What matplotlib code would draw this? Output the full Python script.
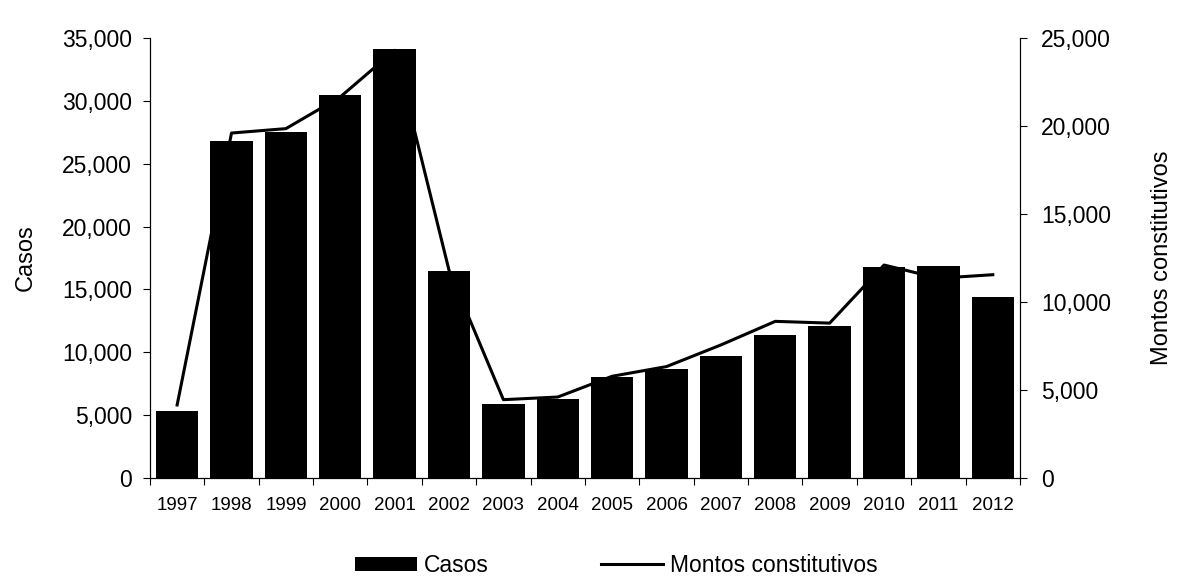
import matplotlib.pyplot as plt
from matplotlib.ticker import FuncFormatter
import numpy as np

plt.rcParams['font.family'] = ['Liberation Sans', 'DejaVu Sans']

years = ['1997', '1998', '1999', '2000', '2001', '2002', '2003', '2004',
         '2005', '2006', '2007', '2008', '2009', '2010', '2011', '2012']
casos = [5300, 26800, 27500, 30500, 34100, 16500, 5900, 6300,
         8000, 8700, 9700, 11400, 12100, 16800, 16900, 14400]
montos = [4150, 19600, 19850, 21650, 24300, 11800, 4450, 4600,
          5780, 6330, 7560, 8900, 8800, 12100, 11350, 11550]

fmt = FuncFormatter(lambda v, p: f'{int(v):,}')

fig = plt.figure(figsize=(11.77, 5.81), dpi=100)
ax = fig.add_axes([0.1274, 0.1773, 0.7392, 0.7573])
x = np.arange(len(years))

bars = ax.bar(x, casos, width=0.78, color='black', label='Casos', zorder=2)
ax.set_xlim(-0.5, len(years) - 0.5)
ax.set_ylim(0, 35000)
ax.set_yticks(np.arange(0, 35001, 5000))
ax.yaxis.set_major_formatter(fmt)
ax.set_ylabel('Casos', fontsize=17, labelpad=18)

ax.set_xticks(x)
ax.set_xticklabels(years, fontsize=13.5)
ax.set_xticks(np.arange(-0.5, len(years), 1), minor=True)
ax.tick_params(axis='x', which='major', length=0, pad=14)
ax.tick_params(axis='x', which='minor', length=5, width=0.8, direction='out')
ax.tick_params(axis='y', labelsize=16.5, length=5, width=0.8, pad=8)

ax2 = ax.twinx()
line, = ax2.plot(x, montos, color='black', lw=2.2, label='Montos constitutivos')
ax2.set_ylim(0, 25000)
ax2.set_yticks(np.arange(0, 25001, 5000))
ax2.yaxis.set_major_formatter(fmt)
ax2.tick_params(axis='y', labelsize=16.5, length=5, width=0.8, pad=10)
ax2.set_ylabel('Montos constitutivos', fontsize=17, labelpad=29)

# bars drawn over the line, as in the original
ax.set_zorder(ax2.get_zorder() + 1)
ax.patch.set_visible(False)

for a in (ax, ax2):
    a.spines['top'].set_visible(False)
    for s in ('left', 'right', 'bottom'):
        a.spines[s].set_linewidth(0.8)
ax2.spines['right'].set_color('#444444')

fig.legend([bars, line], ['Casos', 'Montos constitutivos'], loc='center',
           bbox_to_anchor=(616 / 1177, 0.027), ncol=2, frameon=False,
           fontsize=16.5, handlelength=2.7, handleheight=0.55,
           handletextpad=0.3, columnspacing=4.9, borderpad=0)

fig.savefig('out.png', dpi=100)
